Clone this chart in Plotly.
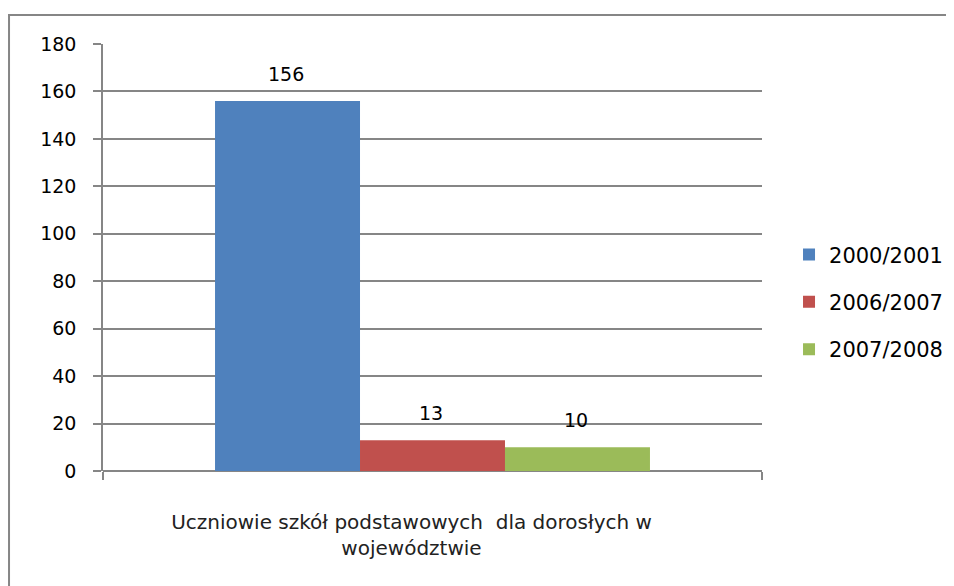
import plotly.graph_objects as go

categories = ["Uczniowie szkół podstawowych  dla dorosłych w<br>województwie"]
series_names = ["2000/2001", "2006/2007", "2007/2008"]
series_values = [[156], [13], [10]]
series_colors = ["#4F81BD", "#C0504D", "#9BBB59"]
y_ticks = [0, 20, 40, 60, 80, 100, 120, 140, 160, 180]

FONT = "DejaVu Sans"

fig = go.Figure()
for name, vals, col in zip(series_names, series_values, series_colors):
    fig.add_trace(go.Bar(
        x=categories, y=vals, name=name, marker=dict(color=col, line=dict(width=0)),
        legendgroup=name,
    ))

# data labels above bars
n = len(series_names)
for i, (name, vals) in enumerate(zip(series_names, series_values)):
    for c, v in zip(categories, vals):
        fig.add_annotation(
            x=c, y=v, xref="x", yref="y", text=str(v), showarrow=False,
            yanchor="bottom", yshift=14,
            xshift=(i - (n - 1) / 2) * 145 - 2,
            font=dict(family=FONT, size=19, color="#000000"),
        )

# outer chart border
fig.add_shape(type="rect", xref="paper", yref="paper",
              x0=-0.1426, x1=1.4, y0=-0.35, y1=1.0679,
              line=dict(color="#868686", width=2), fillcolor="rgba(0,0,0,0)", layer="below")

fig.update_layout(
    width=946, height=578,
    margin=dict(l=95, r=192, t=36, b=115, autoexpand=False),
    paper_bgcolor="white", plot_bgcolor="white",
    barmode="group", bargap=0.34, bargroupgap=0,
    showlegend=True,
    legend=dict(
        x=1.041, xanchor="left", y=0.396, yanchor="middle",
        font=dict(family=FONT, size=21, color="#000000"),
        traceorder="grouped", tracegroupgap=17,
        bgcolor="rgba(0,0,0,0)",
    ),
    font=dict(family=FONT, size=18, color="#000000"),
    xaxis=dict(
        type="category", tickson="boundaries", ticks="outside", ticklen=8,
        tickcolor="#868686", tickwidth=1.5, showgrid=False,
        showline=False, tickfont=dict(family=FONT, size=20, color="#222222"),
        ticklabelstandoff=37, ticklabelshift=-21,
    ),
    yaxis=dict(
        range=[0, 180], tickvals=y_ticks, ticks="outside", ticklen=8,
        tickcolor="#868686", tickwidth=1.5,
        showgrid=True, gridcolor="#868686", gridwidth=1.5,
        showline=True, linecolor="#868686", linewidth=1.5,
        zeroline=True, zerolinecolor="#868686", zerolinewidth=1.5,
        tickfont=dict(family=FONT, size=19, color="#000000"),
        ticklabelstandoff=13,
    ),
)

fig.write_html("out.html")
